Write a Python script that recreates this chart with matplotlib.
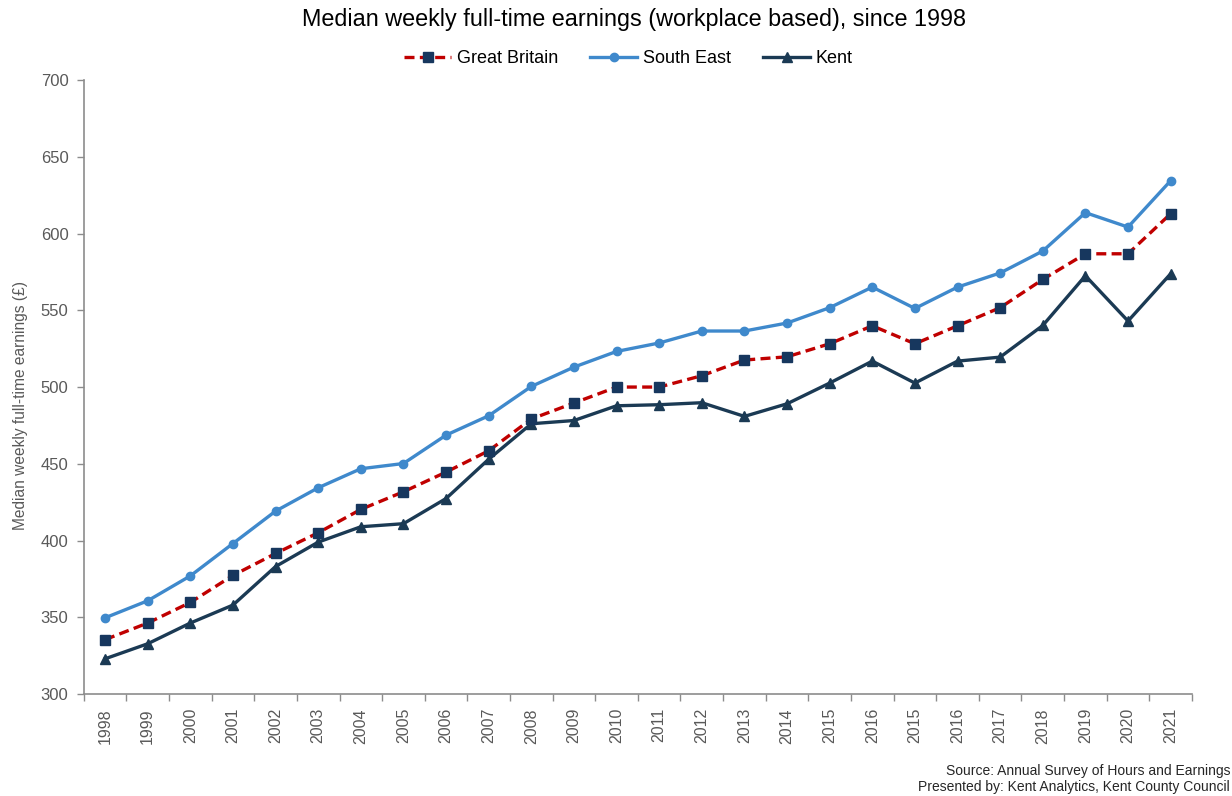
import matplotlib
matplotlib.use("Agg")
import matplotlib.pyplot as plt

# Data
years = ["1998", "1999", "2000", "2001", "2002", "2003", "2004", "2005", "2006",
         "2007", "2008", "2009", "2010", "2011", "2012", "2013", "2014", "2015",
         "2016", "2015", "2016", "2017", "2018", "2019", "2020", "2021"]
great_britain = [335.5, 346.3, 359.7, 377.3, 391.6, 405.1, 420.3, 431.8, 444.6,
                 458.5, 479.2, 489.6, 500.0, 500.0, 507.4, 517.6, 519.7, 528.2,
                 539.9, 528.2, 539.9, 551.7, 570.1, 586.8, 586.8, 612.9]
south_east = [349.7, 360.8, 377.0, 398.1, 419.2, 434.4, 446.8, 450.2, 468.7,
              481.3, 500.4, 513.0, 523.2, 528.7, 536.5, 536.5, 541.7, 551.7,
              565.1, 551.2, 565.1, 574.3, 588.6, 613.6, 604.2, 634.4]
kent = [323.0, 332.8, 346.3, 358.0, 383.1, 399.0, 409.0, 411.0, 427.4,
        453.0, 476.1, 478.2, 487.8, 488.5, 489.8, 480.9, 489.1, 502.6,
        516.9, 502.6, 516.9, 519.5, 540.1, 572.5, 543.0, 573.8]

FONT = ["Liberation Sans", "DejaVu Sans"]
GREY = "#595959"
AXIS = "#8c8c8c"

plt.rcParams["font.family"] = FONT

fig = plt.figure(figsize=(12.32, 7.96), dpi=100)
ax = fig.add_axes([0.068, 0.128, 0.8995, 0.7715])

x = list(range(len(years)))
ax.plot(x, great_britain, color="#C00000", linestyle=(0, (3, 1.6)), linewidth=2.4,
        marker="s", markersize=6.5, markerfacecolor="#17375E",
        markeredgecolor="#17375E", label="Great Britain", zorder=3)
ax.plot(x, south_east, color="#3F89CC", linewidth=2.4,
        marker="o", markersize=6, label="South East", zorder=2)
ax.plot(x, kent, color="#1B3A54", linewidth=2.4,
        marker="^", markersize=6.5, label="Kent", zorder=2)

ax.set_xlim(-0.5, len(years) - 0.5)
ax.set_ylim(300, 700)
ax.set_yticks(range(300, 701, 50))

ax.set_xticks(x)
ax.set_xticklabels(years, rotation=90, fontsize=11.5, color=GREY)
ax.set_xticks([i - 0.5 for i in range(len(years) + 1)], minor=True)
ax.tick_params(axis="x", which="major", length=0, pad=10)
ax.tick_params(axis="x", which="minor", length=5, color=AXIS, width=1)
ax.tick_params(axis="y", length=5, color=AXIS, width=1, labelsize=12,
               labelcolor=GREY, pad=6)

for side in ("top", "right"):
    ax.spines[side].set_visible(False)
for side in ("left", "bottom"):
    ax.spines[side].set_color(AXIS)
    ax.spines[side].set_linewidth(1.2)

ax.set_ylabel("Median weekly full-time earnings (£)", fontsize=11.2, color=GREY)
ax.yaxis.set_label_coords(-0.05, 0.47)

fig.suptitle("Median weekly full-time earnings (workplace based), since 1998",
             x=0.515, y=0.99, fontsize=16.8, color="black")

fig.legend(loc="upper center", bbox_to_anchor=(0.51, 0.957), ncol=3,
           frameon=False, prop={"size": 13},
           handlelength=2.6, columnspacing=1.8, handletextpad=0.3)

fig.text(0.9985, 0.032, "Source: Annual Survey of Hours and Earnings",
         ha="right", va="center", fontsize=10, color="#262626")
fig.text(0.9985, 0.011, "Presented by: Kent Analytics, Kent County Council",
         ha="right", va="center", fontsize=10, color="#262626")

fig.savefig("out.png", dpi=100)
